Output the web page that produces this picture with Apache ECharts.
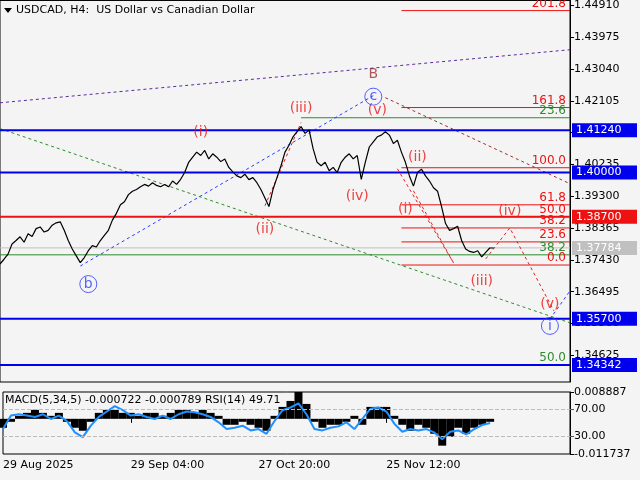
<!DOCTYPE html>
<html><head><meta charset="utf-8">
<script src="https://cdn.jsdelivr.net/npm/echarts@6/dist/echarts.min.js"></script>
<style>html,body{margin:0;background:#f4f4f4}#c{width:640px;height:480px}</style>
</head><body><div id="c"></div>
<script>
// H4 closes, one point every ~4 px
var closes = [1.3731,1.3745,1.3760,1.3790,1.3800,1.3811,1.3795,1.3820,1.3812,1.3835,1.3840,1.3825,1.3830,1.3845,1.3852,1.3855,
  1.3830,1.3800,1.3775,1.3755,1.3735,1.3750,1.3770,1.3785,1.3781,1.3800,1.3815,1.3830,1.3860,1.3880,1.3905,1.3914,
  1.3935,1.3945,1.3950,1.3958,1.3965,1.3960,1.3970,1.3962,1.3958,1.3965,1.3958,1.3975,1.3965,1.3980,1.4000,1.4030,
  1.4045,1.4060,1.4050,1.4065,1.4040,1.4055,1.4045,1.4032,1.4040,1.4015,1.4002,1.3990,1.3985,1.3995,1.3979,1.3985,
  1.3970,1.3950,1.3925,1.3900,1.3950,1.3985,1.4020,1.4060,1.4080,1.4105,1.4120,1.4135,1.4115,1.4125,1.4070,1.4030,
  1.4020,1.4030,1.4005,1.4015,1.4000,1.4030,1.4045,1.4055,1.4040,1.4050,1.3980,1.4030,1.4075,1.4090,1.4105,1.4110,
  1.4120,1.4110,1.4085,1.4095,1.4060,1.4030,1.3990,1.3960,1.4000,1.4010,1.3990,1.3975,1.3955,1.3945,1.3900,1.3850,
  1.3830,1.3835,1.3842,1.3800,1.3775,1.3768,1.3765,1.3770,1.3752,1.3765,1.3778,1.3778];
var macdHist = [-0.003,-0.001,0.001,0.002,0.003,0.002,0.001,0.002,-0.001,-0.003,-0.004,-0.001,0.002,0.003,0.003,0.002,
  0.002,0.001,0.002,0.002,0.001,0.002,0.003,0.003,0.002,0.003,0.002,0.001,-0.002,-0.002,-0.001,-0.002,-0.003,-0.004,
  0.001,0.004,0.006,0.009,0.005,-0.001,-0.003,-0.002,-0.002,-0.001,0.001,-0.002,0.004,0.004,0.004,0.001,-0.002,-0.004,
  -0.002,-0.003,-0.005,-0.009,-0.006,-0.003,-0.005,-0.003,-0.002,-0.001];
var rsi = [40,60,62,60,58,62,55,60,52,35,28,45,58,66,74,68,60,62,58,55,60,55,62,66,65,62,58,50,40,42,45,38,40,33,
  52,68,72,78,62,40,38,42,44,50,40,55,70,72,66,48,36,40,38,40,35,25,36,38,32,40,46,49];
var priceTicks = [1.34625,1.35560,1.36495,1.37430,1.38365,1.39300,1.40235,1.41170,1.42105,1.43040,1.43975,1.44910];
var dateLabels = ['29 Aug 2025','29 Sep 04:00','27 Oct 20:00','25 Nov 12:00'];
var dateIdx = [0,16,32,48];
var levelsBlue = [1.41240,1.40000,1.35700,1.34342];
var levelRed = 1.38700, lastPrice = 1.37784;
// fibo: [price, label, colour key, start index]
var fibs = [[1.4476,'201.8','r',99.5],[1.4191,'161.8','r',99.5],[1.4161,'23.6','g',75],[1.4014,'100.0','r',99.5],
  [1.3905,'61.8','r',99.5],[1.3870,'50.0','r',99.5],[1.3837,'38.2','r',99.5],[1.3796,'23.6','r',99.5],
  [1.3758,'38.2','g',0],[1.3728,'0.0','r',99.5],[1.3434,'50.0','g',130]];
// trend lines: [colour, [[idx,price],...]]
var trendLines = [
  ['#5b2a9e',[[0,1.4205],[142,1.4361]]],
  ['#2a3cff',[[20,1.3725],[93,1.4226]]],
  ['#2a3cff',[[137,1.3569],[142,1.3652]]],
  ['#2e8b2e',[[0,1.4129],[142,1.3558]]],
  ['#a03030',[[95.75,1.4220],[142,1.3967]]],
  ['#e02020',[[66,1.3902],[75,1.4147]]],
  ['#e02020',[[99.25,1.4011],[112.5,1.3734]]],
  ['#e02020',[[102.5,1.3946],[112.5,1.3734]]],
  ['#e02020',[[121,1.3746],[126.5,1.3837],[137.5,1.3593]]]
];
// wave labels: [idx, price, text, circled]
var waves = [[49.5,1.4117,'(i)',0],[66,1.3834,'(ii)',0],[74.5,1.4188,'(iii)',0],[88.75,1.3931,'(iv)',0],
  [93.75,1.4182,'(v)',0],[93.25,1.4223,'c',1],[21.5,1.3672,'b',1],[103.5,1.4046,'(ii)',0],[100.75,1.3893,'(i)',0],
  [119.5,1.3681,'(iii)',0],[127,1.3887,'(iv)',0],[137.25,1.3611,'(v)',0],[137.25,1.3549,'i',1]];

var FONT = 'DejaVu Sans';
var cats = [];
for (var i = 0; i <= 142; i++) cats.push(i);
var cats2 = [];
for (var j = 0; j < 72; j++) cats2.push(dateIdx.indexOf(j) >= 0 ? dateLabels[dateIdx.indexOf(j)] : '');

var series = [];
//
function hLine(v, x0, color, width, label, z) {
  series.push({ type: 'line', data: [[x0, v], [142, v]], showSymbol: false, silent: true, z: z || 2,
    lineStyle: { color: color, width: width }, endLabel: label ? Object.assign({ show: true }, label) : { show: false } });
}
function boxLabel(v, bg) {
  return { formatter: v.toFixed(5), backgroundColor: bg, color: '#fff', distance: 2, padding: [2, 4, 1, 4],
    fontFamily: FONT, fontSize: 11, width: 57 };
}
fibs.forEach(function (f) {
  var col = f[2] === 'r' ? '#ee1111' : '#2e8b2e';
  hLine(f[0], f[3], col, 1, { formatter: f[1], color: col, fontFamily: FONT, fontSize: 12, align: 'right', distance: 0, offset: [-4, -7] });
});
levelsBlue.forEach(function (v) { hLine(v, 0, '#0000ee', 2, boxLabel(v, '#0000ee'), 4); });
hLine(levelRed, 0, '#ee1111', 2, boxLabel(levelRed, '#ee1111'), 4);
hLine(lastPrice, 0, '#c0c0c0', 1, boxLabel(lastPrice, '#c0c0c0'), 1);

series.push({ type: 'line', data: closes, showSymbol: false, lineStyle: { color: '#000', width: 1.2 }, z: 5 });
trendLines.forEach(function (t) {
  series.push({ type: 'line', data: t[1], showSymbol: false, lineStyle: { color: t[0], width: 1, type: [3, 3] }, z: 3 });
});
var waveSeries = {
  type: 'scatter', symbolSize: 0, z: 10,
  data: waves.map(function (w) { return { value: [w[0], w[1]], name: w[2], circ: w[3] }; }),
  label: { show: true, position: 'inside', fontFamily: FONT, fontSize: 14,
    formatter: function (p) { return p.name; }, color: '#ee1111' }
};
waveSeries.data.forEach(function (d) {
  if (d.circ) d.label = { color: '#2a3cff', borderColor: '#2a3cff', borderWidth: 1, borderRadius: 9,
    width: 17, height: 17, lineHeight: 17, align: 'center' };
});
series.push(waveSeries);
series.push({ type: 'scatter', symbolSize: 0, data: [{ value: [92.5, 1.4288] }], label: { show: true, position: 'inside',
  formatter: 'B', color: '#a03030', fontFamily: FONT, fontSize: 14 } });
series.push({ type: 'bar', xAxisIndex: 1, yAxisIndex: 1, data: macdHist, barWidth: '100%', itemStyle: { color: '#000' } });
series.push({ type: 'line', xAxisIndex: 1, yAxisIndex: 2, data: rsi, showSymbol: false, lineStyle: { color: '#1e90ff', width: 2 },
  markLine: { symbol: 'none', silent: true, label: { show: false }, lineStyle: { color: '#bbb', type: 'dashed', width: 1 },
    data: [{ yAxis: 70 }, { yAxis: 30 }] } });

var chart = echarts.init(document.getElementById('c'));
chart.setOption({
  backgroundColor: '#f4f4f4', animation: false,
  grid: [{ left: 0, top: 0, width: 570, height: 382, show: true, borderColor: '#000', borderWidth: 1 },
         { left: 0, top: 392, width: 570, height: 62, show: true, borderColor: '#000', borderWidth: 1 }],
  xAxis: [{ type: 'category', data: cats, boundaryGap: false, gridIndex: 0, axisLabel: { show: false }, axisTick: { show: false }, axisLine: { show: false } },
          { type: 'category', data: cats2, boundaryGap: false, gridIndex: 1, axisLine: { show: false },
            axisTick: { show: true, interval: function (i, v) { return v !== ''; }, lineStyle: { color: '#000' }, length: 4 },
            axisLabel: { interval: function (i, v) { return v !== ''; }, align: 'left', color: '#000', fontFamily: FONT, fontSize: 11, margin: 6 } }],
  yAxis: [{ type: 'value', position: 'right', min: 1.33841, max: 1.45057, gridIndex: 0, splitLine: { show: false },
            axisLine: { show: true, lineStyle: { color: '#000' } },
            axisTick: { show: true, customValues: priceTicks, length: 4, lineStyle: { color: '#000' } },
            axisLabel: { customValues: priceTicks, formatter: function (v) { return v.toFixed(5); }, color: '#000', fontFamily: FONT, fontSize: 11, margin: 4 } },
          { type: 'value', position: 'right', min: -0.0118, max: 0.0090, gridIndex: 1, splitLine: { show: false },
            axisLine: { show: true, lineStyle: { color: '#000' } },
            axisTick: { show: true, customValues: [0.008887, -0.011737], length: 4 },
            axisLabel: { customValues: [0.008887, -0.011737], formatter: function (v) { return v.toFixed(6); }, color: '#000', fontFamily: FONT, fontSize: 11, margin: 4 } },
          { type: 'value', position: 'right', min: 3, max: 95, gridIndex: 1, splitLine: { show: false }, axisLine: { show: false },
            axisTick: { show: true, customValues: [70, 30], length: 4 },
            axisLabel: { customValues: [70, 30], formatter: function (v) { return v.toFixed(2); }, color: '#000', fontFamily: FONT, fontSize: 11, margin: 4 } }],
  graphic: [
    { type: 'polygon', shape: { points: [[4, 8], [12, 8], [8, 13]] }, style: { fill: '#000' } },
    { type: 'text', left: 16, top: 5, style: { text: 'USDCAD, H4:  US Dollar vs Canadian Dollar', fill: '#000', font: '11px "DejaVu Sans"' } },
    { type: 'text', left: 5, top: 395, style: { text: 'MACD(5,34,5) -0.000722 -0.000789 RSI(14) 49.71', fill: '#000', font: '11px "DejaVu Sans"' } }
  ],
  series: series
});
</script></body></html>
